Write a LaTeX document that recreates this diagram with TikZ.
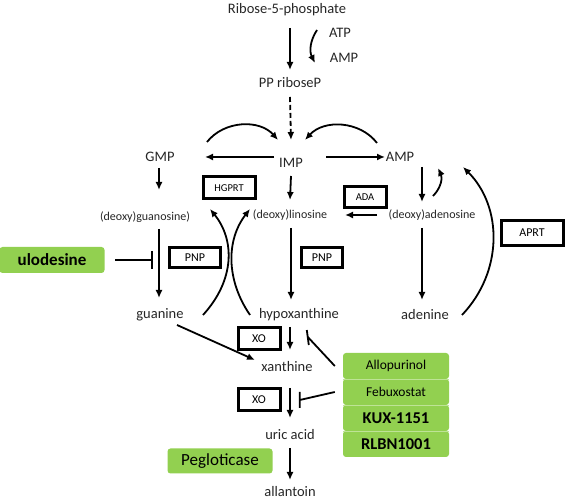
\documentclass[tikz,border=0pt]{standalone}
\usepackage{fontspec}
\setmainfont{Carlito}
\usepackage{tikz}
\usetikzlibrary{positioning,arrows.meta}
\definecolor{drugfill}{RGB}{146,208,80}

\begin{document}
\begin{tikzpicture}[x=1pt,y=1pt,
    lbl/.style={font=\fontsize{14.5}{16}\selectfont,inner sep=1pt,text=black!85},
    sml/.style={font=\fontsize{12}{14}\selectfont,inner sep=1pt,text=black!85},
    enz/.style={draw,line width=3pt,inner sep=0pt,font=\fontsize{12}{14}\selectfont},
    drug/.style={fill=drugfill,rounded corners=3pt,inner sep=0pt,minimum width=106,minimum height=26},
    arr/.style={line width=1.8pt,-{Latex[length=8pt,width=7pt]}},
    inh/.style={line width=1.8pt}]
  \useasboundingbox (0,0) rectangle (567,502);

  % metabolites
  \node[lbl](ribose) at (287,492){Ribose-5-phosphate};
  \node[lbl](atp) at (340,469){ATP};
  \node[lbl](amp1) at (344,444){AMP};
  \node[lbl](pprib) at (290,419){PP riboseP};
  \node[lbl](imp) at (291,339){IMP};
  \node[lbl](gmp) at (160,345){GMP};
  \node[lbl](amp) at (400,345){AMP};
  \node[sml](guo) at (145,285){(deoxy)guanosine)};
  \node[sml](ino) at (290,287){(deoxy)linosine};
  \node[sml](ado) at (432,287){(deoxy)adenosine};
  \node[lbl](gua) at (160,187){guanine};
  \node[lbl](hyp) at (299,187){hypoxanthine};
  \node[lbl](ade) at (425,187){adenine};
  \node[lbl](xan) at (287,135){xanthine};
  \node[lbl](uric) at (290,67){uric acid};
  \node[lbl](allan) at (290,10){allantoin};

  % enzymes
  \node[enz,minimum width=52,minimum height=22,font=\fontsize{10.5}{12}\selectfont](hgprt) at (229,314){HGPRT};
  \node[enz,minimum width=42,minimum height=21,font=\fontsize{10.5}{12}\selectfont](ada) at (365,305){ADA};
  \node[enz,minimum width=62,minimum height=25](aprt) at (532,269){APRT};
  \node[enz,minimum width=51,minimum height=20](pnpa) at (195,244){PNP};
  \node[enz,minimum width=41,minimum height=20](pnpb) at (322,244){PNP};
  \node[enz,minimum width=42,minimum height=22](xoa) at (259,163){XO};
  \node[enz,minimum width=42,minimum height=22](xob) at (259,102){XO};

  % drugs
  \node[drug,font=\fontsize{17}{19}\selectfont\bfseries,minimum width=105](ulo) at (52,242){ulodesine};
  \node[drug,font=\fontsize{13.5}{15}\selectfont](allo) at (396,136){Allopurinol};
  \node[drug,font=\fontsize{13.5}{15}\selectfont](febu) at (396,110){Febuxostat};
  \node[drug,font=\fontsize{16.5}{18}\selectfont\bfseries](kux) at (396,84){KUX-1151};
  \node[drug,font=\fontsize{16.5}{18}\selectfont\bfseries](rlbn) at (396,58){RLBN1001};
  \node[drug,font=\fontsize{17}{19}\selectfont,minimum width=105,minimum height=25](peg) at (220,41){Pegloticase};

  \draw[drugfill!60!white,line width=0.6pt] (allo.south west) -- (allo.south east)
    (febu.south west) -- (febu.south east) (kux.south west) -- (kux.south east);

  % de novo
  \draw[arr] ([shift={(3,-18)}]ribose.center) -- ([yshift=13]pprib.center);
  \draw[arr] ([shift={(-23,3)}]atp.center) to[bend right=30] ([shift={(-29,-5)}]amp1.center);
  \draw[arr,dash pattern=on 5pt off 3pt] ([yshift=-14]pprib.center) -- ([yshift=23]imp.center);
  \draw[arr] ([shift={(47,15)}]gmp.center) to[bend left=50] ([shift={(-13,23)}]imp.center);
  \draw[arr] ([shift={(-23,14)}]amp.center) to[bend right=50] ([shift={(14,23)}]imp.center);
  \draw[arr] ([shift={(-17,6)}]imp.center) -- ([xshift=45]gmp.center);
  \draw[arr] ([shift={(35,6)}]imp.center) -- ([xshift=-15]amp.center);

  % nucleosides
  \draw[arr] ([shift={(-1,-11)}]gmp.center) -- ([shift={(-1,-33)}]gmp.center);
  \draw[arr] ([yshift=-13]imp.center) -- ([yshift=15]ino.center);
  \draw[arr] ([shift={(22,-10)}]amp.center) -- ([shift={(-10,13)}]ado.center);
  \draw[arr] ([shift={(1,19)}]ado.center) to[bend right=35] ([shift={(6,47)}]ado.center);
  \draw[arr] ([xshift=-55]ado.center) -- ([xshift=55]ino.center);

  % bases
  \draw[arr] ([shift={(14,-12)}]guo.center) -- ([shift={(-1,17)}]gua.center);
  \draw[arr] ([shift={(1,-13)}]ino.center) -- ([shift={(-8,15)}]hyp.center);
  \draw[arr] ([shift={(-10,-13)}]ado.center) -- ([shift={(-3,15)}]ade.center);
  \draw[inh] ([xshift=63]ulo.center) -- ([xshift=100]ulo.center)
    ([shift={(100,9)}]ulo.center) -- ([shift={(100,-9)}]ulo.center);

  % salvage
  \draw[arr] ([xshift=43]gua.center) .. controls (235,222) and (235,262) .. ([shift={(-19,-21)}]hgprt.center);
  \draw[arr] ([xshift=-49]hyp.center) .. controls (226,222) and (226,262) .. ([shift={(21,-21)}]hgprt.center);
  \draw[arr] ([xshift=37]ade.center) .. controls (503,230) and (503,295) .. ([shift={(63,-10)}]amp.center);

  % purine degradation
  \draw[arr] ([shift={(-9,-12)}]hyp.center) -- ([shift={(3,17)}]xan.center);
  \draw[arr] ([shift={(17,-10)}]gua.center) -- ([shift={(-32,7)}]xan.center);
  \draw[arr] ([shift={(3,-21)}]xan.center) -- ([yshift=17]uric.center);
  \draw[arr] ([yshift=-13]uric.center) -- ([yshift=12]allan.center);
  \draw[inh] ([xshift=-8]allo.west) -- ([shift={(-35,29)}]allo.west)
    ([shift={(-36,36)}]allo.west) -- ([shift={(-34,21)}]allo.west);
  \draw[inh] ([xshift=-8]febu.west) -- ([shift={(-43,-8)}]febu.west)
    ([shift={(-43,0)}]febu.west) -- ([shift={(-43,-16)}]febu.west);
\end{tikzpicture}
\end{document}
